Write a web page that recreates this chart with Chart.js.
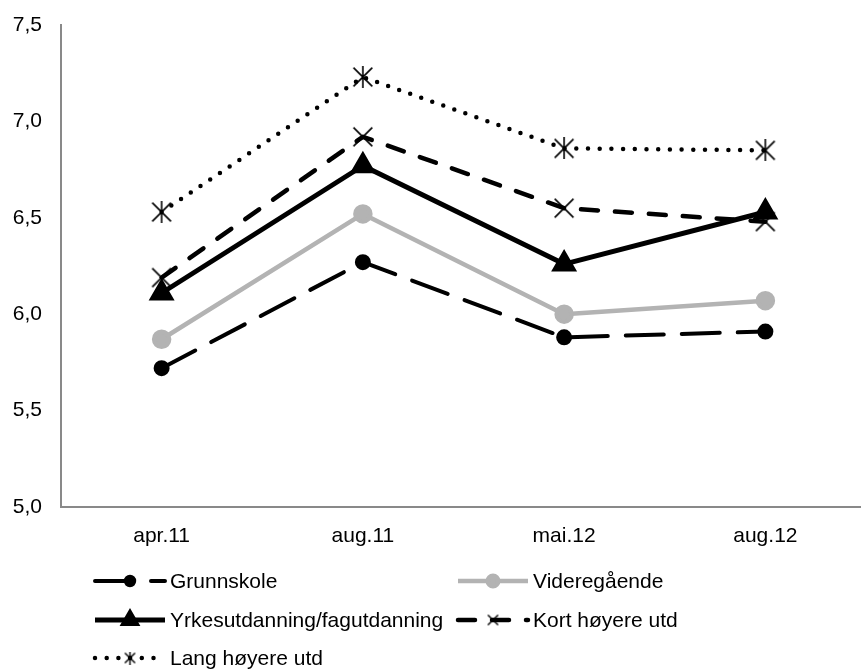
<!DOCTYPE html>
<html>
<head>
<meta charset="utf-8">
<script src="https://cdn.jsdelivr.net/npm/chart.js@4/dist/chart.umd.min.js"></script>
<style>
    html, body { margin: 0; padding: 0; background: #fff; overflow: hidden; }
    #clip { width: 861px; height: 671px; overflow: hidden; }
    #wrap { width: 881px; height: 671px; }
</style>
</head>
<body>
<div id="clip"><div id="wrap"><canvas id="chart" width="881" height="671"></canvas></div></div>
<script>
// Chart data
const categories = ['apr.11', 'aug.11', 'mai.12', 'aug.12'];
const seriesNames = ['Grunnskole', 'Videregående', 'Yrkesutdanning/fagutdanning', 'Kort høyere utd', 'Lang høyere utd'];
const grunnskole = [5.72, 6.27, 5.88, 5.91];
const videregaende = [5.87, 6.52, 6.00, 6.07];
const yrkesutdanning = [6.11, 6.77, 6.26, 6.53];
const kortHoyere = [6.19, 6.92, 6.55, 6.48];
const langHoyere = [6.53, 7.23, 6.86, 6.85];
const yTicks = [5.0, 5.5, 6.0, 6.5, 7.0, 7.5];

const FONT = "'Liberation Sans', Arial, sans-serif";

// Build marker images (X and asterisk) on small canvases
function makeMarker(type, size, lw) {
    const c = document.createElement('canvas');
    c.width = size;
    c.height = size;
    const g = c.getContext('2d');
    const m = lw;
    g.strokeStyle = '#000';
    g.lineWidth = lw;
    g.beginPath();
    g.moveTo(m, m); g.lineTo(size - m, size - m);
    g.moveTo(size - m, m); g.lineTo(m, size - m);
    if (type === 'star') {
        g.moveTo(size / 2, 0); g.lineTo(size / 2, size);
    }
    g.stroke();
    return c;
}

const xMarker = makeMarker('x', 22, 1.6);
const starMarker = makeMarker('star', 22, 1.6);
const xMarkerSmall = makeMarker('x', 13, 1.4);
const starMarkerSmall = makeMarker('star', 13, 1.4);

// Legend item placement
const legendPos = [
    { x: 95, y: 581 },
    { x: 458, y: 581 },
    { x: 95, y: 620 },
    { x: 458, y: 620 },
    { x: 95, y: 658 }
];
const legendSmall = [null, null, null, xMarkerSmall, starMarkerSmall];

const legendPlugin = {
    id: 'gridLegend',
    afterDraw(chart) {
        const ctx = chart.ctx;
        chart.data.datasets.forEach((ds, i) => {
            const p = legendPos[i];
            ctx.save();
            ctx.strokeStyle = ds.borderColor;
            ctx.lineWidth = ds.borderWidth;
            ctx.lineCap = ds.borderCapStyle || 'butt';
            ctx.setLineDash(ds.borderDash || []);
            ctx.beginPath();
            ctx.moveTo(p.x, p.y);
            ctx.lineTo(p.x + 70, p.y);
            ctx.stroke();
            ctx.setLineDash([]);
            const mx = p.x + 35;
            if (legendSmall[i]) {
                const img = legendSmall[i];
                ctx.drawImage(img, mx - img.width / 2, p.y - img.height / 2);
            } else {
                ctx.fillStyle = ds.pointBackgroundColor;
                ctx.strokeStyle = ds.pointBorderColor;
                Chart.helpers.drawPoint(ctx, {
                    pointStyle: ds.pointStyle,
                    radius: ds.pointRadius * 0.7,
                    borderWidth: 1,
                    rotation: 0
                }, mx, p.y);
            }
            ctx.fillStyle = '#000';
            ctx.font = '21px ' + FONT;
            ctx.textBaseline = 'middle';
            ctx.textAlign = 'left';
            ctx.fillText(ds.label, p.x + 75, p.y + 1);
            ctx.restore();
        });
    }
};

const ctx = document.getElementById('chart').getContext('2d');
new Chart(ctx, {
    type: 'line',
    data: {
        labels: categories,
        datasets: [
            {
                label: seriesNames[0],
                data: grunnskole,
                borderColor: '#000',
                borderWidth: 4,
                borderDash: [38, 18],
                borderCapStyle: 'round',
                pointStyle: 'circle',
                pointRadius: 6,
                pointBackgroundColor: '#000',
                pointBorderColor: '#000',
                order: 5
            },
            {
                label: seriesNames[1],
                data: videregaende,
                borderColor: '#b3b3b3',
                borderWidth: 4.5,
                pointStyle: 'circle',
                pointRadius: 7.5,
                pointBackgroundColor: '#b3b3b3',
                pointBorderColor: '#b3b3b3',
                order: 4
            },
            {
                label: seriesNames[2],
                data: yrkesutdanning,
                borderColor: '#000',
                borderWidth: 5,
                pointStyle: 'triangle',
                pointRadius: 10,
                pointBackgroundColor: '#000',
                pointBorderColor: '#000',
                order: 3
            },
            {
                label: seriesNames[3],
                data: kortHoyere,
                borderColor: '#000',
                borderWidth: 4.5,
                borderDash: [17, 17],
                borderCapStyle: 'round',
                pointStyle: xMarker,
                pointRadius: 10,
                order: 2
            },
            {
                label: seriesNames[4],
                data: langHoyere,
                borderColor: '#000',
                borderWidth: 4.5,
                borderDash: [0, 11.7],
                borderCapStyle: 'round',
                pointStyle: starMarker,
                pointRadius: 10,
                order: 1
            }
        ]
    },
    options: {
        responsive: false,
        animation: false,
        devicePixelRatio: 1,
        layout: { padding: { top: 25, left: 0, right: 0, bottom: 0 } },
        elements: { line: { tension: 0, borderJoinStyle: 'round' } },
        plugins: {
            legend: { display: false },
            tooltip: { enabled: false }
        },
        scales: {
            x: {
                offset: true,
                grid: { display: false, drawTicks: false },
                border: { display: true, color: '#898989', width: 2 },
                ticks: {
                    color: '#000',
                    font: { family: FONT, size: 21 },
                    padding: 17,
                    maxRotation: 0
                },
                afterFit(scale) { scale.height = 164; }
            },
            y: {
                min: 5,
                max: 7.5,
                grid: { display: false, drawTicks: false },
                border: { display: true, color: '#898989', width: 2 },
                afterBuildTicks(scale) {
                    scale.ticks = yTicks.map(v => ({ value: v }));
                },
                ticks: {
                    color: '#000',
                    font: { family: FONT, size: 21 },
                    padding: 19,
                    callback: v => Number(v).toFixed(1).replace('.', ',')
                },
                afterFit(scale) {
                    scale.width = 61;
                    scale.paddingTop = 0;
                    scale.paddingBottom = 0;
                }
            }
        }
    },
    plugins: [legendPlugin]
});
</script>
</body>
</html>
